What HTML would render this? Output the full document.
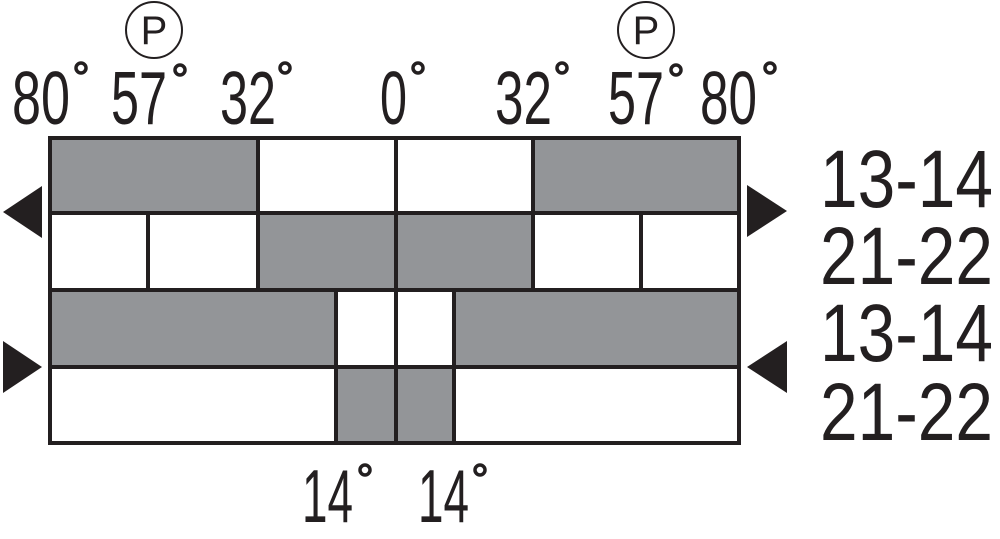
<!DOCTYPE html>
<html><head><meta charset="utf-8"><style>html,body{margin:0;padding:0;background:#fff}svg{display:block}</style></head>
<body>
<svg width="1000" height="539" viewBox="0 0 1000 539" xmlns="http://www.w3.org/2000/svg">
<g fill="#939598">
<rect x="50" y="138" width="208" height="75"/>
<rect x="533" y="138" width="206" height="75"/>
<rect x="258" y="213" width="275" height="77"/>
<rect x="50" y="290" width="286" height="77"/>
<rect x="454" y="290" width="285" height="77"/>
<rect x="336" y="367" width="118" height="76"/>
</g>
<g stroke="#231f20" stroke-width="4" fill="none">
<rect x="50" y="138" width="689" height="305"/>
<line x1="50" y1="213" x2="739" y2="213"/>
<line x1="50" y1="290" x2="739" y2="290"/>
<line x1="50" y1="367" x2="739" y2="367"/>
<line x1="258" y1="138" x2="258" y2="290"/>
<line x1="533" y1="138" x2="533" y2="290"/>
<line x1="396" y1="138" x2="396" y2="443"/>
<line x1="148" y1="213" x2="148" y2="290"/>
<line x1="641" y1="213" x2="641" y2="290"/>
<line x1="336" y1="290" x2="336" y2="443"/>
<line x1="454" y1="290" x2="454" y2="443"/>
</g>
<g fill="#231f20">
<polygon points="42,186 42,238 3,212"/>
<polygon points="747,185 747,237 787,211"/>
<polygon points="3,341 3,393 42,367"/>
<polygon points="787,341 787,393 747,367"/>
</g>
<g stroke="#231f20" stroke-width="2" fill="none">
<circle cx="154" cy="30" r="28"/>
<circle cx="646" cy="30" r="28"/>
</g>
<g font-family="Liberation Sans, sans-serif" fill="#231f20">
<text x="154" y="44" font-size="40" text-anchor="middle">P</text>
<text x="646" y="44" font-size="40" text-anchor="middle">P</text>
<g font-size="75" lengthAdjust="spacingAndGlyphs">
<text x="12" y="124" textLength="58" lengthAdjust="spacingAndGlyphs">80</text>
<text x="111" y="124" textLength="56" lengthAdjust="spacingAndGlyphs">57</text>
<text x="220" y="124" textLength="56" lengthAdjust="spacingAndGlyphs">32</text>
<text x="380" y="124" textLength="27" lengthAdjust="spacingAndGlyphs">0</text>
<text x="495" y="124" textLength="57" lengthAdjust="spacingAndGlyphs">32</text>
<text x="608" y="124" textLength="56" lengthAdjust="spacingAndGlyphs">57</text>
<text x="700" y="124" textLength="57" lengthAdjust="spacingAndGlyphs">80</text>
<text x="302" y="522" textLength="51" lengthAdjust="spacingAndGlyphs">14</text>
<text x="418" y="522" textLength="51" lengthAdjust="spacingAndGlyphs">14</text>
</g>
<g font-size="82">
<text x="820" y="207" textLength="173" lengthAdjust="spacingAndGlyphs">13-14</text>
<text x="820" y="284" textLength="173" lengthAdjust="spacingAndGlyphs">21-22</text>
<text x="820" y="361" textLength="173" lengthAdjust="spacingAndGlyphs">13-14</text>
<text x="820" y="440" textLength="173" lengthAdjust="spacingAndGlyphs">21-22</text>
</g>
</g>
<g stroke="#231f20" stroke-width="3.5" fill="none">
<circle cx="81" cy="68" r="5"/>
<circle cx="180" cy="70" r="5"/>
<circle cx="285" cy="68" r="5"/>
<circle cx="418" cy="68" r="5"/>
<circle cx="562" cy="68" r="5"/>
<circle cx="676" cy="70" r="5"/>
<circle cx="770" cy="68" r="5"/>
<circle cx="365" cy="470" r="5"/>
<circle cx="480" cy="470" r="5"/>
</g>
</svg>
</body></html>
